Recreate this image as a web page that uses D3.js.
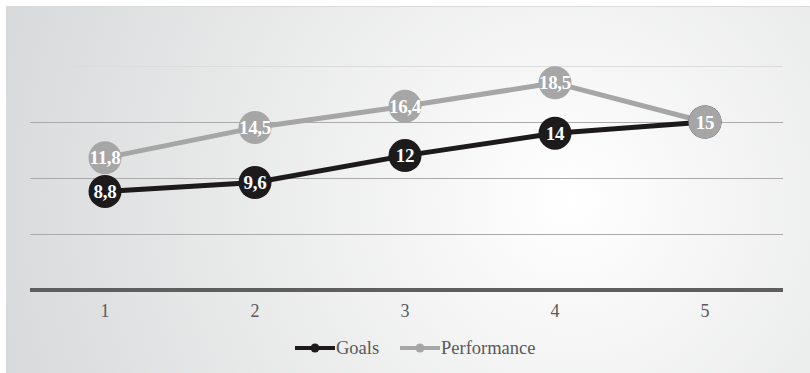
<!DOCTYPE html>
<html><head><meta charset="utf-8">
<script src="https://cdn.jsdelivr.net/npm/d3@7"></script>
<style>body{margin:0;background:#fff}svg{display:block}</style>
</head><body>
<svg id="c" width="810" height="373"></svg>
<script>
const categories = ["1","2","3","4","5"];
const goals = [8.8, 9.6, 12, 14, 15];
const performance = [11.8, 14.5, 16.4, 18.5, 15];
const goalLabels = ["8,8","9,6","12","14","15"];
const perfLabels = ["11,8","14,5","16,4","18,5","15"];
const yTicks = [0,5,10,15,20];
const seriesNames = ["Goals","Performance"];

const svg = d3.select("#c");
const defs = svg.append("defs");
const rg = defs.append("radialGradient").attr("id","bg")
  .attr("gradientUnits","userSpaceOnUse").attr("cx",570).attr("cy",200).attr("r",580);
rg.append("stop").attr("offset","0%").attr("stop-color","#ffffff");
rg.append("stop").attr("offset","100%").attr("stop-color","#d9dadb");

svg.append("rect").attr("x",6.5).attr("y",6.5).attr("width",810).attr("height",373)
  .attr("fill","url(#bg)").attr("stroke","#dadada").attr("stroke-width",1);

const x = d3.scaleBand().domain(categories).range([30,780]);
const y = d3.scaleLinear().domain([0,20]).range([290,66]);

// gridlines
svg.append("g").selectAll("line").data(yTicks.filter(d=>d>0)).join("line")
  .attr("x1",30).attr("x2",783)
  .attr("y1",d=>Math.round(y(d))+0.5).attr("y2",d=>Math.round(y(d))+0.5)
  .attr("stroke",d=>d===20?"#dcdcdc":"#ababab").attr("stroke-width",1);

// x axis
const xAxis = d3.axisBottom(x).tickSize(0).tickPadding(14);
const ax = svg.append("g").attr("transform","translate(0,290)").call(xAxis);
ax.select(".domain").remove();
ax.selectAll("text").attr("font-family","Liberation Serif").attr("font-size",18).attr("fill","#595959");
svg.append("line").attr("x1",30).attr("x2",783).attr("y1",y(0)).attr("y2",y(0))
  .attr("stroke","#5e5e5e").attr("stroke-width",4);

const cx = d => x(d) + x.bandwidth()/2;
const line = d3.line().x((d,i)=>cx(categories[i])).y(d=>y(d));

function drawSeries(vals, color){
  svg.append("path").datum(vals).attr("d",line).attr("fill","none")
    .attr("stroke",color).attr("stroke-width",5).attr("stroke-linejoin","round");
}
function drawMarkers(vals, labels, color){
  const g = svg.append("g");
  g.selectAll("circle").data(vals).join("circle")
    .attr("cx",(d,i)=>cx(categories[i])).attr("cy",d=>y(d)).attr("r",16.5).attr("fill",color);
  g.selectAll("text").data(vals).join("text")
    .attr("x",(d,i)=>cx(categories[i])).attr("y",d=>y(d)).attr("dy","0.35em")
    .attr("text-anchor","middle").attr("font-family","Liberation Serif").attr("font-weight","bold")
    .attr("font-size",19).attr("letter-spacing","-0.3").attr("fill","#fff").text((d,i)=>labels[i]);
}
const perfColor = "#a6a6a6", goalColor = "#1c1a1b";
drawSeries(performance, perfColor);
drawSeries(goals, goalColor);
drawMarkers(goals, goalLabels, goalColor);
drawMarkers(performance, perfLabels, perfColor);

// legend
const legend = [{name:seriesNames[0],color:goalColor,x:295},{name:seriesNames[1],color:perfColor,x:400}];
const lg = svg.append("g").selectAll("g").data(legend).join("g")
  .attr("transform",d=>`translate(${d.x},348)`);
lg.append("line").attr("x1",0).attr("x2",40).attr("stroke",d=>d.color).attr("stroke-width",4);
lg.append("circle").attr("cx",20).attr("r",4.5).attr("fill",d=>d.color);
lg.append("text").attr("x",41).attr("dy","0.35em").attr("font-family","Liberation Serif")
  .attr("font-size",18.5).attr("fill","#595959").text(d=>d.name);
</script>
</body></html>
